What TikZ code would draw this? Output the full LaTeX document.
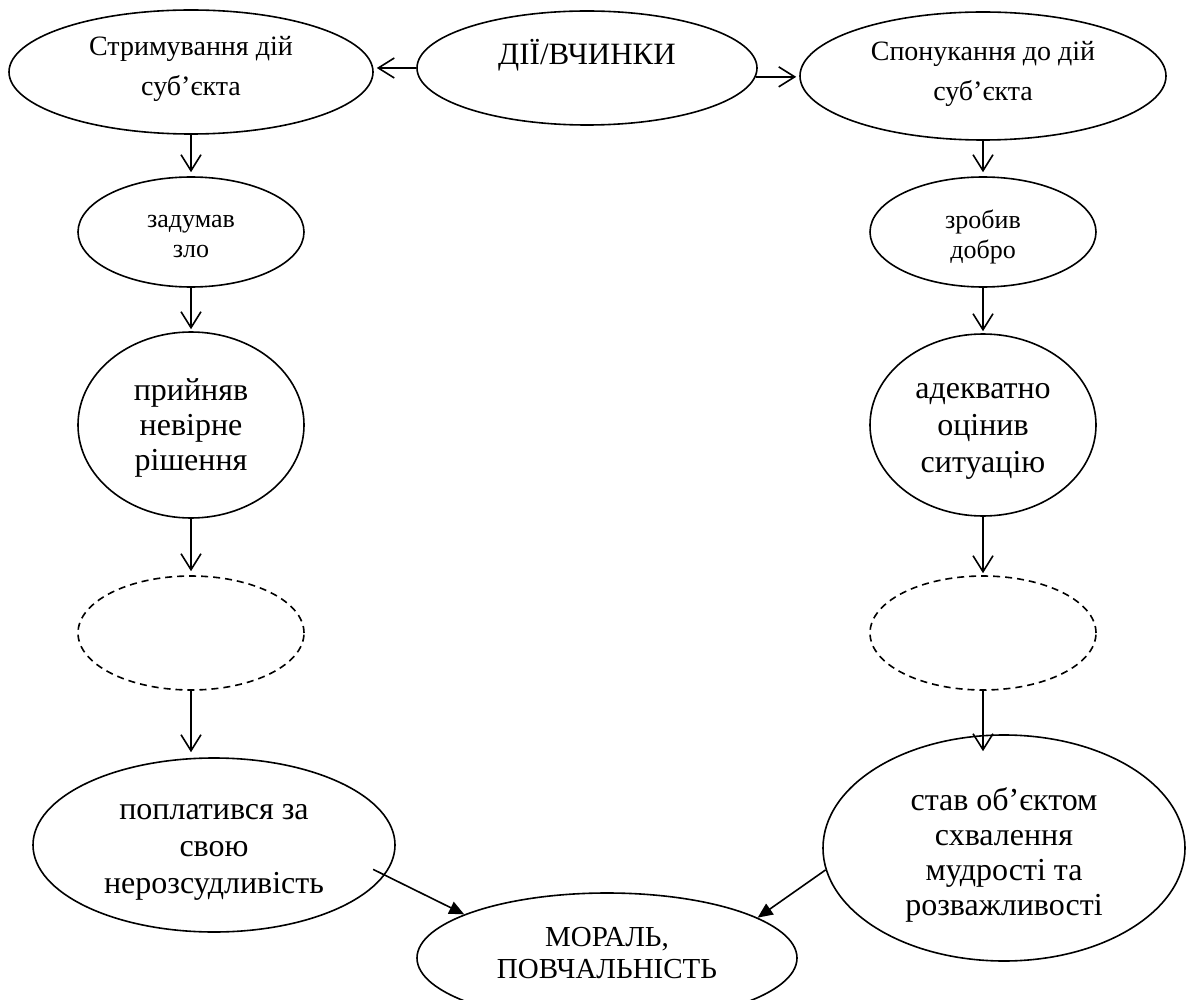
\documentclass[tikz,border=0pt]{standalone}
\usepackage{fontspec}
\setmainfont{Liberation Serif}
\usetikzlibrary{arrows.meta,shapes.geometric,calc}

\newcommand{\toptxt}{\fontsize{28}{40}\selectfont}
\newcommand{\midtxt}{\fontsize{26}{30}\selectfont}
\newcommand{\bigtxt}{\fontsize{32}{35}\selectfont}

\begin{document}
\begin{tikzpicture}[x=1pt,y=-1pt,
  oval/.style args={#1/#2}{ellipse,draw,line width=1.6pt,
    minimum width=#1pt,minimum height=#2pt,inner sep=0pt},
  lbl/.style={align=center,inner sep=0pt},
  ghost/.style={dash pattern=on 7pt off 5pt},
  openarr/.style={line width=1.6pt,-{Straight Barb[length=16pt,width=20pt]}},
  filledarr/.style={line width=1.6pt,-{Triangle[length=15pt,width=13pt]}}]

\useasboundingbox (0,0) rectangle (1186,1000);
\clip (0,0) rectangle (1186,1000);
\fill[white] (0,0) rectangle (1186,1000);

% top row
\node[oval=364/124] (restr) at (191,72) {};
\node[oval=340/114] (act) at (587,68) {};
\node[oval=366/128] (prompt) at (983,76) {};
\node[lbl,font=\toptxt] (restrT) at ([yshift=3pt]restr.center) {Стримування дій\\суб’єкта};
\node[lbl,anchor=base,font=\fontsize{31}{36}\selectfont] (actT) at (587,65) {ДІЇ/ВЧИНКИ};
\node[lbl,font=\toptxt] (promptT) at ([yshift=2pt]prompt.center) {Спонукання до дій\\суб’єкта};

% left column
\node[oval=226/110] (evil) at (191,232) {};
\node[oval=226/186] (wrong) at (191,425) {};
\node[oval=226/114,ghost] (dashL) at (191,633) {};
\node[oval=362/174] (paid) at (214,845) {};
\node[lbl,font=\midtxt] (evilT) at ([yshift=-5pt]evil.center) {задумав\\зло};
\node[lbl,font=\bigtxt] (wrongT) at ([yshift=-3pt]wrong.center) {прийняв\\невірне\\рішення};
\node[lbl,font=\fontsize{32}{37}\selectfont] (paidT) at ([yshift=-7pt]paid.center)
  {поплатився за\\свою\\нерозсудливість};

% right column
\node[oval=226/110] (good) at (983,232) {};
\node[oval=226/182] (apt) at (983,425) {};
\node[oval=226/114,ghost] (dashR) at (983,633) {};
\node[oval=362/226] (praise) at (1004,848) {};
\node[lbl,font=\midtxt] (goodT) at ([yshift=-5pt]good.center) {зробив\\добро};
\node[lbl,font=\fontsize{32}{37}\selectfont] (aptT) at ([yshift=-6pt]apt.center) {адекватно\\оцінив\\ситуацію};
\node[lbl,font=\bigtxt] (praiseT) at ([yshift=-7pt]praise.center)
  {став об’єктом\\схвалення\\мудрості та\\розважливості};

% bottom
\node[oval=380/130] (moral) at (607,958) {};
\node[lbl,font=\fontsize{29}{32}\selectfont] (moralT) at ([yshift=5pt]moral.center) {МОРАЛЬ,\\ПОВЧАЛЬНІСТЬ};

% connectors from the centre
\draw[openarr,shorten >=3pt] (act.west) -- (act.west -| restr.east);
\coordinate (actR) at (act.-3.8);
\draw[openarr,shorten >=3pt] (actR) -- (actR -| prompt.west);

% left chain
\draw[openarr,shorten >=4pt] (restr.south) -- (evil.north);
\draw[openarr,shorten >=2pt] (evil.south) -- (wrong.north);
\draw[openarr,shorten >=4pt] (wrong.south) -- (dashL.north);
\draw[openarr,shorten >=5pt] (dashL.south) -- (dashL.south |- paid.north);

% right chain
\draw[openarr,shorten >=4pt] (prompt.south) -- (good.north);
\draw[openarr,shorten >=2pt] (good.south) -- (apt.north);
\draw[openarr,shorten >=2pt] (apt.south) -- (dashR.north);
\draw[openarr,shorten >=-17pt] (dashR.south) -- (dashR.south |- praise.north);

% into the moral
\draw[filledarr,shorten <=-13pt] (paid.-10.3) -- (moral.163.6);
\draw[filledarr] (praise.187) -- (moral.15.9);
\end{tikzpicture}
\end{document}
